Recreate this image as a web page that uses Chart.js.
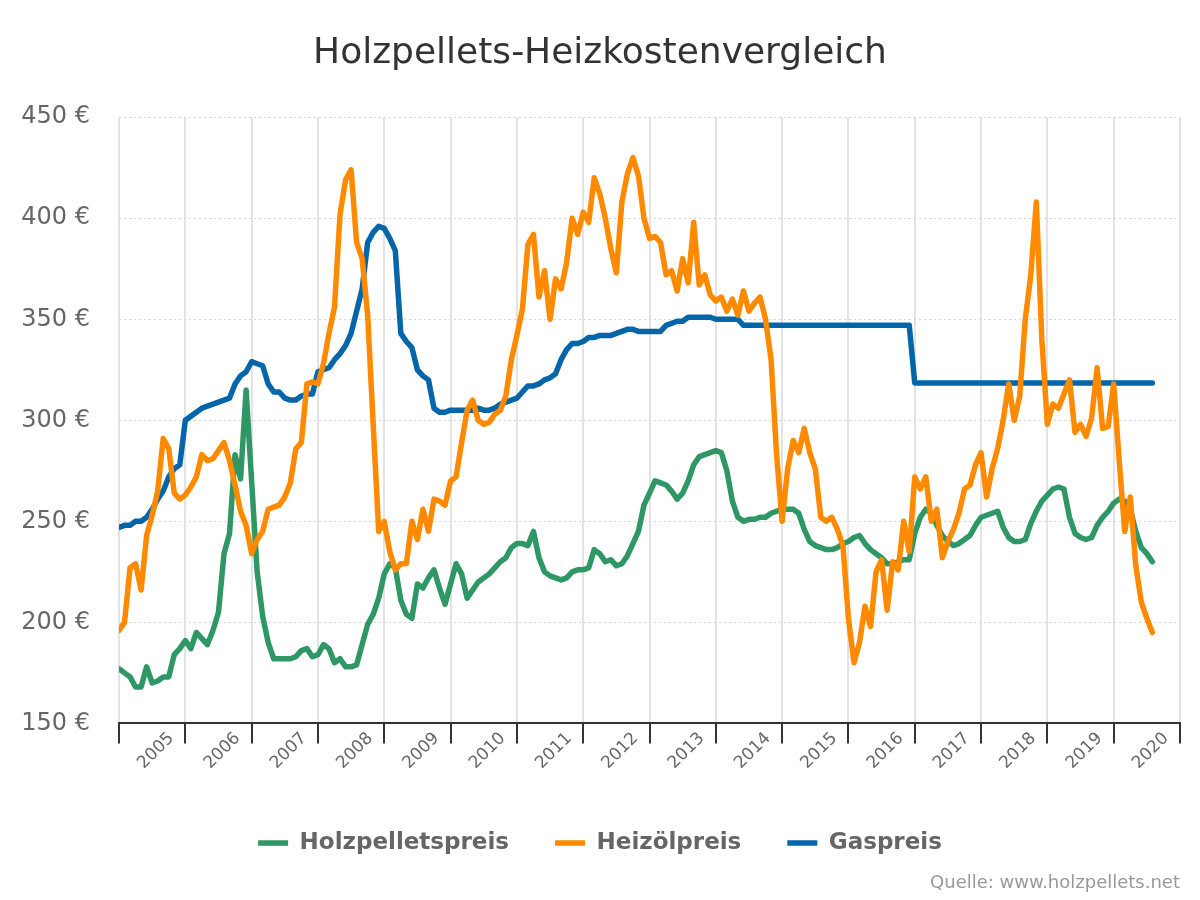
<!DOCTYPE html>
<html lang="de">
<head>
<meta charset="utf-8">
<title>Holzpellets-Heizkostenvergleich</title>
<script src="https://cdn.jsdelivr.net/npm/chart.js@4/dist/chart.umd.min.js"></script>
<style>
  html, body { margin: 0; padding: 0; background: #fff; }
  #wrap { width: 1200px; height: 900px; }
</style>
</head>
<body>
<div id="wrap"><canvas id="vergleichChart" width="1200" height="900"></canvas></div>
<script>
// Monatswerte ab Januar 2004, Preise in €
const startJahr = 2004;
const jahre = [2004, 2005, 2006, 2007, 2008, 2009, 2010, 2011, 2012, 2013, 2014, 2015, 2016, 2017, 2018, 2019, 2020];
const preisTicks = [150, 200, 250, 300, 350, 400, 450];

const holzpellets = [
    177, 175, 173, 168, 168, 178, 170, 171, 173, 173, 184, 187,
    191, 187, 195, 192, 189, 196, 205, 234, 244, 283, 271, 315,
    270, 225, 203, 190, 182, 182, 182, 182, 183, 186, 187, 183,
    184, 189, 187, 180, 182, 178, 178, 179, 189, 199, 204, 212,
    224, 229, 227, 211, 204, 202, 219, 217, 222, 226, 217, 209,
    219, 229, 224, 212, 216, 220, 222, 224, 227, 230, 232, 237,
    239, 239, 238, 245, 232, 225, 223, 222, 221, 222, 225, 226,
    226, 227, 236, 234, 230, 231, 228, 229, 233, 239, 245, 258,
    264, 270, 269, 268, 265, 261, 264, 270, 278, 282, 283, 284,
    285, 284, 275, 260, 252, 250, 251, 251, 252, 252, 254, 255,
    256, 256, 256, 254, 246, 240, 238, 237, 236, 236, 237, 239,
    240, 242, 243, 239, 236, 234, 232, 229, 229, 230, 231, 231,
    244, 252, 256, 254, 248, 243, 240, 238, 239, 241, 243, 248,
    252, 253, 254, 255, 247, 242, 240, 240, 241, 249, 255, 260,
    263, 266, 267, 266, 252, 244, 242, 241, 242, 248, 252, 255,
    259, 261, 260, 256, 245, 237, 234, 230
];

const heizoel = [
    196, 200, 227, 229, 216, 243, 253, 265, 291, 286, 264, 261,
    263, 267, 272, 283, 280, 281, 285, 289, 280, 268, 255, 248,
    234, 241, 245, 256, 257, 258, 262, 269, 286, 289, 318, 319,
    318, 328, 343, 356, 402, 419, 424, 388, 380, 352, 298, 245,
    250, 235, 226, 229, 229, 250, 241, 256, 245, 261, 260, 258,
    270, 272, 289, 305, 310, 300, 298, 299, 303, 305, 312, 330,
    342, 355, 387, 392, 361, 374, 350, 370, 365, 378, 400, 392,
    403, 398, 420, 412, 400, 385, 373, 408, 422, 430, 421, 400,
    390, 391, 388, 372, 374, 364, 380, 368, 398, 367, 372, 362,
    359, 361, 354, 360, 352, 364, 354, 358, 361, 350, 330, 283,
    250, 276, 290, 284, 296, 284, 276, 252, 250, 252, 246, 238,
    202, 180, 190, 208, 198, 225, 231, 206, 230, 226, 250, 235,
    272, 266, 272, 250, 256, 232, 240, 246, 254, 266, 268, 278,
    284, 262, 276, 286, 300, 318, 300, 312, 350, 372, 408, 340,
    298, 308, 306, 313, 320, 294, 298, 292, 301, 326, 296, 297,
    318, 280, 245, 262, 228, 210, 202, 195
];

const gas = [
    247, 248, 248, 250, 250, 252, 256, 261, 265, 272, 276, 278,
    300, 302, 304, 306, 307, 308, 309, 310, 311, 318, 322, 324,
    329, 328, 327, 318, 314, 314, 311, 310, 310, 312, 313, 313,
    324, 325, 326, 330, 333, 337, 343, 354, 365, 388, 393, 396,
    395, 390, 384, 343, 339, 336, 325, 322, 320, 306, 304, 304,
    305, 305, 305, 305, 305, 306, 305, 305, 306, 308, 309, 310,
    311, 314, 317, 317, 318, 320, 321, 323, 330, 335, 338, 338,
    339, 341, 341, 342, 342, 342, 343, 344, 345, 345, 344, 344,
    344, 344, 344, 347, 348, 349, 349, 351, 351, 351, 351, 351,
    350, 350, 350, 350, 350, 347, 347, 347, 347, 347, 347, 347,
    347, 347, 347, 347, 347, 347, 347, 347, 347, 347, 347, 347,
    347, 347, 347, 347, 347, 347, 347, 347, 347, 347, 347, 347,
    318.5, 318.5, 318.5, 318.5, 318.5, 318.5, 318.5, 318.5, 318.5, 318.5, 318.5, 318.5,
    318.5, 318.5, 318.5, 318.5, 318.5, 318.5, 318.5, 318.5, 318.5, 318.5, 318.5, 318.5,
    318.5, 318.5, 318.5, 318.5, 318.5, 318.5, 318.5, 318.5, 318.5, 318.5, 318.5, 318.5,
    318.5, 318.5, 318.5, 318.5, 318.5, 318.5, 318.5, 318.5
];

// Monat i -> Jahreszahl auf der x-Achse
function punkte(werte) {
    return werte.map((wert, i) => ({ x: startJahr + i / 12, y: wert }));
}

// Legende flacher machen, damit der Abstand zwischen den Einträgen bleibt
const legendeHoehe = {
    id: 'legendeHoehe',
    afterInit(chart) {
        const legend = chart.legend;
        const fitOrig = legend.fit;
        legend.fit = function () {
            fitOrig.call(this);
            this.height = 80;
        };
    }
};

Chart.defaults.font.family = '"DejaVu Sans", Verdana, sans-serif';

new Chart(document.getElementById('vergleichChart').getContext('2d'), {
    type: 'line',
    data: {
        datasets: [
            {
                label: 'Holzpelletspreis',
                data: punkte(holzpellets),
                borderColor: '#2f9765',
                backgroundColor: '#2f9765',
                borderWidth: 5.5,
                order: 2
            },
            {
                label: 'Heizölpreis',
                data: punkte(heizoel),
                borderColor: '#ff8a00',
                backgroundColor: '#ff8a00',
                borderWidth: 5.5,
                order: 0
            },
            {
                label: 'Gaspreis',
                data: punkte(gas),
                borderColor: '#0565a9',
                backgroundColor: '#0565a9',
                borderWidth: 5.5,
                order: 1
            }
        ]
    },
    options: {
        responsive: false,
        animation: false,
        events: [],
        layout: { padding: { left: 20, right: 20, top: 0, bottom: 6 } },
        elements: {
            point: { radius: 0 },
            line: { tension: 0, fill: false, borderJoinStyle: 'round', borderCapStyle: 'round' }
        },
        scales: {
            x: {
                type: 'linear',
                min: 2004,
                max: 2020,
                afterBuildTicks: s => { s.ticks = jahre.map(v => ({ value: v })); },
                afterFit: s => { s.height = 62; },
                ticks: {
                    autoSkip: false,
                    minRotation: 45,
                    maxRotation: 45,
                    padding: -15,
                    labelOffset: -14,
                    color: '#666',
                    font: { size: 17 },
                    callback: v => (v === startJahr ? '' : String(v))
                },
                grid: {
                    color: '#e3e3e3',
                    lineWidth: 2,
                    tickColor: '#333',
                    tickWidth: 2,
                    tickLength: 20
                },
                border: { color: '#333', width: 2 }
            },
            y: {
                min: 150,
                max: 450,
                afterBuildTicks: s => { s.ticks = preisTicks.map(v => ({ value: v })); },
                afterFit: s => { s.width = 99; },
                ticks: {
                    padding: 29,
                    color: '#666',
                    font: { size: 24 },
                    callback: v => v + ' €'
                },
                grid: { color: '#d6d6d6', lineWidth: 1, drawTicks: false },
                border: { display: false, dash: [2, 3] }
            }
        },
        plugins: {
            title: {
                display: true,
                text: 'Holzpellets-Heizkostenvergleich',
                color: '#333',
                font: { size: 36, weight: 'normal' },
                padding: { top: 32, bottom: 42 }
            },
            subtitle: {
                display: true,
                text: 'Quelle: www.holzpellets.net',
                position: 'bottom',
                align: 'end',
                color: '#999',
                font: { size: 18, weight: 'normal' },
                padding: { top: 7, bottom: 0 }
            },
            legend: {
                position: 'bottom',
                labels: {
                    usePointStyle: true,
                    pointStyle: 'line',
                    pointStyleWidth: 30,
                    padding: 46,
                    color: '#666',
                    font: { size: 23, weight: 'bold' },
                    sort: (a, b) => a.datasetIndex - b.datasetIndex
                }
            },
            tooltip: { enabled: false }
        }
    },
    plugins: [legendeHoehe]
});
</script>
</body>
</html>
